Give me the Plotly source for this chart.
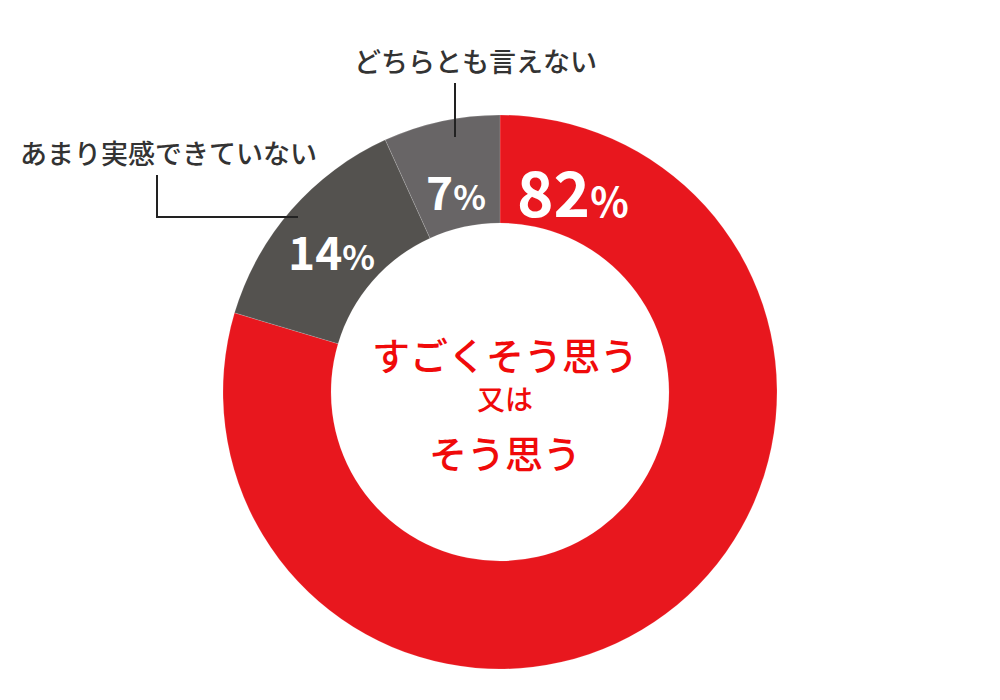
import plotly.graph_objects as go

categories = ["すごくそう思う又はそう思う", "あまり実感できていない", "どちらとも言えない"]
values = [82, 14, 7]
colors = ["#e8171e", "#54524f", "#686566"]
pct_labels = ["82", "14", "7"]

FONT = "Noto Sans CJK JP"
OFF = 8  # page body margin compensation


def px(x):
    return (x - OFF) / 1000


def py(y):
    return 1 - (y - OFF) / 700


fig = go.Figure()
fig.add_trace(go.Pie(
    labels=categories,
    values=values,
    hole=0.61,
    sort=False,
    direction="clockwise",
    rotation=0,
    marker=dict(colors=colors, line=dict(color="rgba(255,255,255,0.25)", width=0.6)),
    textinfo="none",
    hoverinfo="label+value",
    showlegend=False,
    domain=dict(x=[px(223), px(777)], y=[py(669), py(115)]),
))

annotations = []
pct_pos = [(573, 190, 62, 40), (331, 250, 46, 34), (456, 190, 46, 34)]
for lab, (x, y, big, small) in zip(pct_labels, pct_pos):
    annotations.append(dict(
        x=px(x), y=py(y), xref="paper", yref="paper",
        text=f"<b>{lab}</b><span style='font-size:{small}px'><b>%</b></span>",
        showarrow=False, font=dict(family=FONT, size=big, color="white"),
        xanchor="center", yanchor="middle",
    ))

annotations.append(dict(
    x=px(475), y=py(60), xref="paper", yref="paper",
    text=categories[2], showarrow=False,
    font=dict(family=FONT, size=27, color="#333333", weight=500),
    xanchor="center", yanchor="middle",
))
annotations.append(dict(
    x=px(168), y=py(152), xref="paper", yref="paper",
    text=categories[1], showarrow=False,
    font=dict(family=FONT, size=27, color="#333333", weight=500),
    xanchor="center", yanchor="middle",
))

center_lines = [("すごくそう思う", 353, 38), ("又は", 398, 28), ("そう思う", 452, 38)]
for t, y, s in center_lines:
    annotations.append(dict(
        x=px(505), y=py(y), xref="paper", yref="paper",
        text=t, showarrow=False,
        font=dict(family=FONT, size=s, color="#f00a0a", weight=500),
        xanchor="center", yanchor="middle",
    ))

shapes = [
    dict(type="line", xref="paper", yref="paper",
         x0=px(455), x1=px(455), y0=py(83), y1=py(137),
         line=dict(color="#222222", width=2)),
    dict(type="path", xref="paper", yref="paper",
         path=f"M {px(157)} {py(175)} L {px(157)} {py(217)} L {px(298)} {py(217)}",
         line=dict(color="#222222", width=2)),
]

fig.update_layout(
    width=1000, height=700,
    margin=dict(l=0, r=0, t=0, b=0),
    paper_bgcolor="white", plot_bgcolor="white",
    annotations=annotations, shapes=shapes,
)

fig.write_html("out.html")
